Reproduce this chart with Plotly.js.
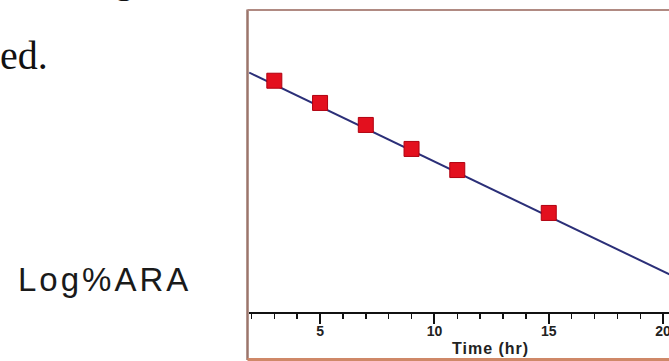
<!DOCTYPE html>
<html>
<head>
<meta charset="utf-8">
<script src="https://cdn.plot.ly/plotly-3.0.1.min.js"></script>
<style>
  html, body { margin: 0; padding: 0; background: #ffffff; overflow: hidden; width: 669px; height: 361px; }
  #chart { width: 720px; height: 361px; }
</style>
</head>
<body>
<div id="chart"></div>
<script>
// Data
const times = [3, 5, 7, 9, 11, 15];                         // Time (hr)
const logARA = [1.868, 1.767, 1.667, 1.558, 1.462, 1.267];  // Log%ARA (relative units)
const fitTimes = [1.9, 22];                                  // regression line ends
const fitLogARA = [1.905, 0.902];
const tickValues = [5, 10, 15, 20];
const tickLabels = ['5', '10', '15', '20'];

const L = 249, W = 720, H = 361, T = 10, B = 312;
const plotW = W - L - 10, plotH = B - T;
const px2x = p => (p - L) / plotW;
const px2y = p => (B - p) / plotH;

const traces = [
  {
    x: fitTimes, y: fitLogARA, type: 'scatter', mode: 'lines',
    line: { color: '#2b2f78', width: 2 }, hoverinfo: 'skip', showlegend: false
  },
  {
    x: times, y: logARA, type: 'scatter', mode: 'markers',
    marker: { symbol: 'square', size: 15, color: '#e3101e', line: { color: '#b0000f', width: 1 } },
    showlegend: false
  }
];

const layout = {
  width: W, height: H,
  margin: { l: L, r: 10, t: T, b: H - B, pad: 0 },
  paper_bgcolor: '#ffffff', plot_bgcolor: '#ffffff',
  showlegend: false,
  xaxis: {
    range: [1.893, 22.05],
    showgrid: false, zeroline: false,
    showline: true, linecolor: '#111111', linewidth: 2,
    ticks: 'outside', ticklen: 10, tickwidth: 2, tickcolor: '#111111',
    ticklabelstandoff: -5,
    tickvals: tickValues, ticktext: tickLabels,
    tickfont: { family: 'Liberation Sans, Arial, sans-serif', size: 14, color: '#222222', weight: 'bold' },
    minor: { dtick: 1, ticks: 'outside', ticklen: 5, tickwidth: 1.5, tickcolor: '#111111', showgrid: false }
  },
  yaxis: {
    range: [0.8168, 2.1895],
    showgrid: false, zeroline: false, showline: false,
    showticklabels: false, ticks: ''
  },
  shapes: [
    { type: 'line', xref: 'paper', yref: 'paper', x0: px2x(247.5), x1: px2x(247.5), y0: px2y(360), y1: px2y(9.5),
      line: { color: '#9b756b', width: 2.5 } },
    { type: 'line', xref: 'paper', yref: 'paper', x0: px2x(247.5), x1: 1.2, y0: px2y(10), y1: px2y(10),
      line: { color: '#b08a82', width: 2 } },
    { type: 'line', xref: 'paper', yref: 'paper', x0: px2x(247.5), x1: 1.2, y0: px2y(359.5), y1: px2y(359.5),
      line: { color: '#cf8868', width: 3 } }
  ],
  annotations: [
    { text: '<span style="letter-spacing:1px">Time (hr)</span>', xref: 'paper', yref: 'paper', x: px2x(490), y: px2y(348),
      xanchor: 'center', yanchor: 'middle', showarrow: false,
      font: { family: 'Liberation Sans, Arial, sans-serif', size: 16, color: '#222222', weight: 'bold' } },
    { text: '<span style="letter-spacing:3px">Log%ARA</span>', xref: 'paper', yref: 'paper', x: px2x(16), y: px2y(279.6),
      xanchor: 'left', yanchor: 'middle', showarrow: false,
      font: { family: 'Liberation Sans, Arial, sans-serif', size: 33, color: '#1a1a1a' } },
    { text: 'ed.', xref: 'paper', yref: 'paper', x: px2x(-2), y: px2y(55.5),
      xanchor: 'left', yanchor: 'middle', showarrow: false,
      font: { family: 'Liberation Serif, Times New Roman, serif', size: 40, color: '#111111' } },
    { text: 'g', xref: 'paper', yref: 'paper', x: px2x(124), y: px2y(-21.5),
      xanchor: 'center', yanchor: 'middle', showarrow: false,
      font: { family: 'Liberation Serif, Times New Roman, serif', size: 40, color: '#111111' } }
  ]
};

Plotly.newPlot('chart', traces, layout, { staticPlot: true, displayModeBar: false });
</script>
</body>
</html>
